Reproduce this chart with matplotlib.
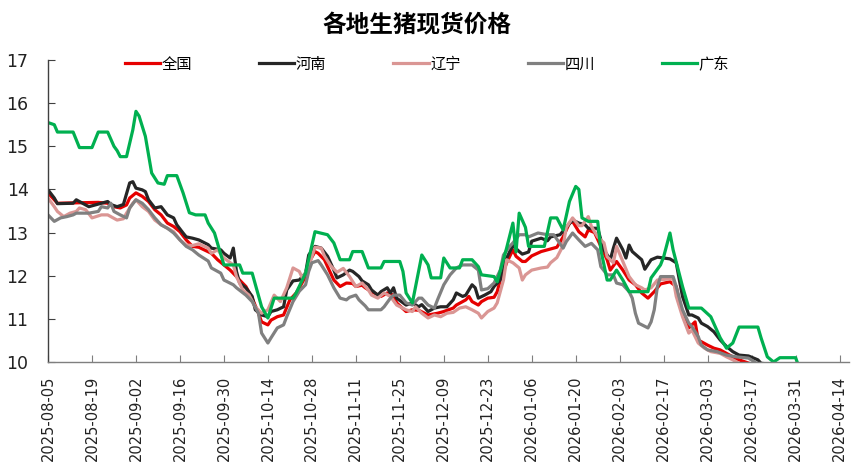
import matplotlib

matplotlib.use("Agg")

import matplotlib.dates as mdates
import matplotlib.pyplot as plt
import pandas as pd

START = pd.Timestamp("2025-08-05")

# (days since 2025-08-05, price in yuan/kg)
national = [
    (0, 13.92), (2, 13.76), (3, 13.68), (16, 13.7), (19, 13.68), (21, 13.6), (23, 13.57), (25, 13.64),
    (26, 13.8), (28, 13.92), (30, 13.84), (32, 13.72), (34, 13.53), (36, 13.41), (38, 13.22), (40, 13.14),
    (42, 13.02), (44, 12.83), (46, 12.68), (48, 12.66), (52, 12.52), (54, 12.37), (56, 12.25), (58, 12.13),
    (60, 11.98), (61, 11.9), (63, 11.75), (65, 11.48), (67, 11.13), (68, 10.93), (70, 10.86), (71, 10.97),
    (73, 11.05), (75, 11.09), (77, 11.44), (79, 11.6), (80, 11.72), (82, 11.98), (83, 12.3), (85, 12.56),
    (86, 12.52), (88, 12.37), (89, 12.21), (91, 11.9), (93, 11.75), (95, 11.83), (97, 11.82), (98, 11.75),
    (100, 11.78), (101, 11.72), (103, 11.63), (106, 11.52), (108, 11.6), (110, 11.55), (111, 11.37),
    (114, 11.17), (116, 11.21), (118, 11.2), (121, 11.09), (124, 11.13), (126, 11.17), (129, 11.25),
    (130, 11.32), (133, 11.44), (134, 11.52), (135, 11.4), (137, 11.32), (138, 11.4), (140, 11.48),
    (142, 11.5), (143, 11.63), (144, 11.9), (146, 12.3), (148, 12.6), (149, 12.45), (151, 12.33),
    (152, 12.33), (154, 12.46), (157, 12.56), (160, 12.62), (162, 12.66), (164, 12.9), (166, 13.22),
    (167, 13.26), (169, 13.02), (171, 12.9), (172, 13.06), (174, 13.0), (176, 12.68), (178, 12.37),
    (179, 12.13), (181, 12.33), (183, 12.13), (185, 11.9), (187, 11.79), (189, 11.6), (191, 11.48),
    (193, 11.63), (195, 11.81), (198, 11.86), (200, 11.75), (201, 11.37), (203, 10.97), (204, 10.79),
    (206, 10.93), (207, 10.51), (210, 10.39), (212, 10.32), (214, 10.28), (216, 10.2), (218, 10.12),
    (220, 10.05), (222, 10.0), (224, 9.95),
]

henan = [
    (0, 13.99), (2, 13.8), (3, 13.67), (8, 13.68), (9, 13.76), (11, 13.68), (13, 13.6), (17, 13.68),
    (19, 13.72), (20, 13.65), (22, 13.6), (24, 13.65), (26, 14.15), (27, 14.18), (28, 14.03), (30, 13.99),
    (31, 13.95), (32, 13.76), (34, 13.57), (36, 13.6), (38, 13.41), (40, 13.34), (41, 13.18), (43, 12.99),
    (44, 12.9), (46, 12.87), (48, 12.83), (51, 12.72), (52, 12.64), (55, 12.6), (56, 12.52), (58, 12.41),
    (59, 12.64), (60, 12.1), (61, 11.83), (63, 11.72), (65, 11.52), (66, 11.21), (68, 11.09), (70, 11.05),
    (71, 11.17), (73, 11.21), (75, 11.28), (76, 11.67), (78, 11.88), (80, 11.9), (82, 12.06), (83, 12.48),
    (85, 12.68), (87, 12.64), (89, 12.45), (91, 12.13), (92, 11.95), (94, 12.02), (96, 12.13), (97, 12.1),
    (99, 11.98), (100, 11.88), (102, 11.79), (103, 11.67), (105, 11.55), (106, 11.63), (108, 11.72),
    (109, 11.6), (110, 11.72), (111, 11.48), (114, 11.32), (116, 11.37), (118, 11.28), (119, 11.33),
    (121, 11.17), (123, 11.25), (125, 11.28), (127, 11.28), (129, 11.44), (130, 11.6), (132, 11.52),
    (133, 11.55), (135, 11.79), (136, 11.72), (137, 11.48), (139, 11.55), (141, 11.63), (142, 11.75),
    (144, 11.9), (145, 12.25), (147, 12.56), (148, 12.7), (150, 12.56), (151, 12.5), (153, 12.55),
    (154, 12.8), (157, 12.87), (159, 12.81), (160, 12.9), (163, 12.95), (165, 13.12), (167, 13.29),
    (169, 13.22), (171, 13.18), (172, 13.1), (175, 13.1), (176, 12.83), (177, 12.6), (179, 12.37),
    (180, 12.64), (181, 12.87), (183, 12.6), (184, 12.41), (185, 12.71), (186, 12.56), (189, 12.37),
    (190, 12.15), (192, 12.37), (194, 12.43), (198, 12.39), (200, 12.3), (201, 11.9), (202, 11.52),
    (204, 11.09), (205, 11.09), (207, 11.02), (208, 10.9), (210, 10.82), (212, 10.7), (214, 10.51),
    (216, 10.36), (218, 10.24), (220, 10.16), (223, 10.14), (226, 10.05), (227, 9.97), (230, 9.95),
]

liaoning = [
    (0, 13.8), (2, 13.6), (3, 13.49), (5, 13.37), (7, 13.45), (9, 13.49), (10, 13.57), (12, 13.53),
    (14, 13.34), (17, 13.41), (19, 13.41), (20, 13.37), (22, 13.29), (24, 13.32), (25, 13.45), (27, 13.68),
    (28, 13.76), (30, 13.6), (32, 13.49), (34, 13.29), (36, 13.18), (38, 13.1), (40, 13.02), (42, 12.83),
    (44, 12.71), (46, 12.7), (48, 12.74), (51, 12.64), (52, 12.52), (54, 12.6), (56, 12.41), (59, 12.25),
    (60, 11.98), (62, 11.67), (64, 11.55), (66, 11.28), (68, 11.13), (70, 11.21), (72, 11.55), (74, 11.4),
    (76, 11.72), (78, 12.18), (80, 12.1), (81, 11.94), (83, 12.21), (85, 12.66), (87, 12.64), (88, 12.46),
    (90, 12.23), (92, 12.08), (94, 12.17), (96, 11.98), (98, 11.75), (100, 11.83), (102, 11.67),
    (103, 11.55), (105, 11.48), (107, 11.6), (109, 11.52), (111, 11.32), (114, 11.21), (116, 11.17),
    (117, 11.28), (119, 11.13), (121, 11.02), (123, 11.09), (125, 11.05), (127, 11.13), (129, 11.15),
    (131, 11.25), (133, 11.28), (135, 11.21), (137, 11.13), (138, 11.02), (140, 11.17), (142, 11.25),
    (143, 11.37), (145, 11.9), (146, 12.37), (148, 12.3), (150, 12.18), (151, 11.9), (152, 12.02),
    (154, 12.13), (157, 12.18), (159, 12.2), (160, 12.3), (162, 12.42), (164, 12.7), (165, 13.12),
    (167, 13.34), (169, 13.16), (170, 13.16), (172, 13.37), (173, 13.14), (175, 12.9), (177, 12.76),
    (178, 12.44), (180, 12.3), (181, 12.68), (183, 12.33), (185, 11.98), (187, 11.79), (189, 11.72),
    (190, 11.67), (192, 11.72), (194, 11.9), (197, 11.92), (199, 11.93), (200, 11.52), (202, 11.05),
    (204, 10.67), (205, 10.74), (207, 10.44), (209, 10.32), (211, 10.24), (214, 10.2), (216, 10.12),
    (218, 10.05), (220, 9.97),
]

sichuan = [
    (0, 13.41), (2, 13.26), (4, 13.34), (6, 13.37), (8, 13.41), (9, 13.45), (13, 13.45), (16, 13.49),
    (17, 13.6), (19, 13.57), (20, 13.68), (21, 13.49), (23, 13.41), (25, 13.34), (26, 13.57), (28, 13.76),
    (30, 13.68), (32, 13.53), (34, 13.34), (36, 13.18), (38, 13.1), (40, 12.99), (42, 12.83), (44, 12.68),
    (46, 12.6), (48, 12.48), (51, 12.34), (52, 12.18), (55, 12.06), (56, 11.9), (59, 11.79), (60, 11.72),
    (63, 11.55), (65, 11.4), (67, 11.13), (68, 10.67), (70, 10.44), (71, 10.56), (73, 10.79), (75, 10.86),
    (76, 11.05), (78, 11.4), (80, 11.64), (82, 11.79), (83, 12.1), (84, 12.3), (86, 12.35), (87, 12.25),
    (89, 12.02), (91, 11.72), (93, 11.48), (95, 11.44), (96, 11.5), (98, 11.55), (99, 11.44), (101, 11.3),
    (102, 11.21), (106, 11.21), (107, 11.28), (109, 11.48), (110, 11.55), (112, 11.55), (114, 11.37),
    (116, 11.32), (118, 11.48), (119, 11.48), (121, 11.32), (123, 11.25), (124, 11.44), (126, 11.79),
    (128, 12.02), (130, 12.18), (132, 12.25), (135, 12.25), (137, 12.13), (138, 11.67), (140, 11.7),
    (142, 11.83), (144, 12.13), (145, 12.48), (147, 12.68), (148, 12.76), (150, 12.95), (152, 12.95),
    (153, 12.9), (156, 12.99), (159, 12.95), (161, 12.95), (164, 12.64), (165, 12.79), (167, 12.99),
    (169, 12.83), (171, 12.68), (173, 12.75), (175, 12.6), (176, 12.21), (178, 12.02), (180, 12.02),
    (181, 11.83), (183, 11.79), (185, 11.63), (186, 11.48), (187, 11.13), (188, 10.9), (191, 10.79),
    (192, 10.93), (193, 11.21), (194, 11.75), (195, 11.98), (199, 11.98), (200, 11.75), (202, 11.21),
    (204, 10.9), (205, 10.82), (207, 10.59), (208, 10.39), (210, 10.28), (213, 10.24), (216, 10.16),
    (219, 10.12), (223, 10.09), (225, 10.0), (226, 9.95),
]

guangdong = [
    (0, 15.55), (2, 15.5), (3, 15.33), (8, 15.33), (10, 14.97), (14, 14.97), (16, 15.33), (19, 15.33),
    (21, 15.0), (22, 14.9), (23, 14.76), (25, 14.76), (27, 15.38), (28, 15.81), (29, 15.7), (31, 15.23),
    (33, 14.38), (35, 14.15), (37, 14.12), (38, 14.32), (41, 14.32), (43, 13.92), (45, 13.46), (47, 13.41),
    (50, 13.41), (51, 13.22), (53, 12.99), (56, 12.25), (61, 12.25), (62, 12.06), (65, 12.06), (68, 11.28),
    (70, 11.02), (72, 11.48), (78, 11.48), (79, 11.6), (82, 12.06), (85, 13.02), (89, 12.95), (91, 12.76),
    (93, 12.37), (96, 12.37), (97, 12.56), (100, 12.56), (102, 12.18), (106, 12.18), (107, 12.33),
    (112, 12.33), (113, 12.1), (114, 11.6), (116, 11.37), (119, 12.48), (121, 12.25), (122, 11.95),
    (125, 11.95), (126, 12.41), (128, 12.18), (131, 12.18), (132, 12.37), (135, 12.37), (137, 12.21),
    (138, 12.02), (142, 11.98), (143, 11.86), (146, 12.64), (148, 13.22), (149, 12.55), (150, 13.45),
    (152, 13.12), (153, 12.68), (158, 12.68), (160, 13.34), (162, 13.34), (164, 13.06), (166, 13.72),
    (168, 14.07), (169, 14.0), (170, 13.34), (172, 13.26), (175, 13.26), (176, 12.6), (178, 11.9),
    (179, 11.9), (181, 12.13), (183, 11.9), (185, 11.63), (191, 11.63), (192, 11.95), (195, 12.25),
    (196, 12.44), (198, 12.99), (199, 12.6), (202, 11.75), (204, 11.25), (208, 11.25), (211, 11.05),
    (214, 10.56), (216, 10.32), (218, 10.44), (220, 10.81), (226, 10.81), (227, 10.56), (229, 10.12),
    (231, 10.0), (233, 10.1), (238, 10.1), (239, 9.9),
]

series_names = ["全国", "河南", "辽宁", "四川", "广东"]
series_data = [national, henan, liaoning, sichuan, guangdong]
series_colors = ["#E60000", "#262626", "#DA9694", "#808080", "#00B050"]

y_ticks = [10, 11, 12, 13, 14, 15, 16, 17]
x_ticks = pd.date_range("2025-08-05", "2026-04-14", freq="14D")

CJK = ["Noto Sans CJK SC", "DejaVu Sans"]

fig = plt.figure(figsize=(8.51, 4.75), dpi=100)
fig.patch.set_facecolor("white")
ax = fig.add_axes([48 / 851, 1 - 362 / 475, 801 / 851, 302 / 475])

for name, data, color in zip(series_names, series_data, series_colors):
    days = [d for d, _ in data]
    vals = [v for _, v in data]
    dates = START + pd.to_timedelta(days, unit="D")
    ax.plot(dates, vals, color=color, linewidth=2.3, label=name, solid_joinstyle="round")

ax.set_ylim(10, 17)
ax.set_yticks(y_ticks)
ax.set_xlim(pd.Timestamp("2025-08-05"), pd.Timestamp("2026-04-17"))
ax.set_xticks(x_ticks)
ax.xaxis.set_major_formatter(mdates.DateFormatter("%Y-%m-%d"))

for side in ["top", "right"]:
    ax.spines[side].set_visible(False)
ax.spines["left"].set_color("#404040")
ax.spines["bottom"].set_color("#7f7f7f")
ax.spines["left"].set_linewidth(1.0)
ax.spines["bottom"].set_linewidth(1.0)

ax.tick_params(axis="y", direction="in", length=5, color="#404040", labelsize=12.5, pad=14, labelcolor="#222")
ax.tick_params(axis="x", direction="in", length=5, color="#7f7f7f", labelsize=10.5, pad=10, labelcolor="#222")
for label in ax.get_xticklabels():
    label.set_rotation(90)
    label.set_family("DejaVu Sans")

fig.text(0.49, 0.947, "各地生猪现货价格", ha="center", va="center", fontsize=17,
         fontweight="bold", family=CJK, color="black")

ax.legend(
    loc="center",
    bbox_to_anchor=(427 / 851, 1 - 64 / 475),
    bbox_transform=fig.transFigure,
    ncol=5,
    frameon=False,
    handlelength=2.3,
    handletextpad=0.1,
    columnspacing=4.4,
    prop={"family": CJK, "size": 11},
)

fig.savefig("out.png", dpi=100, facecolor="white")
plt.close(fig)
